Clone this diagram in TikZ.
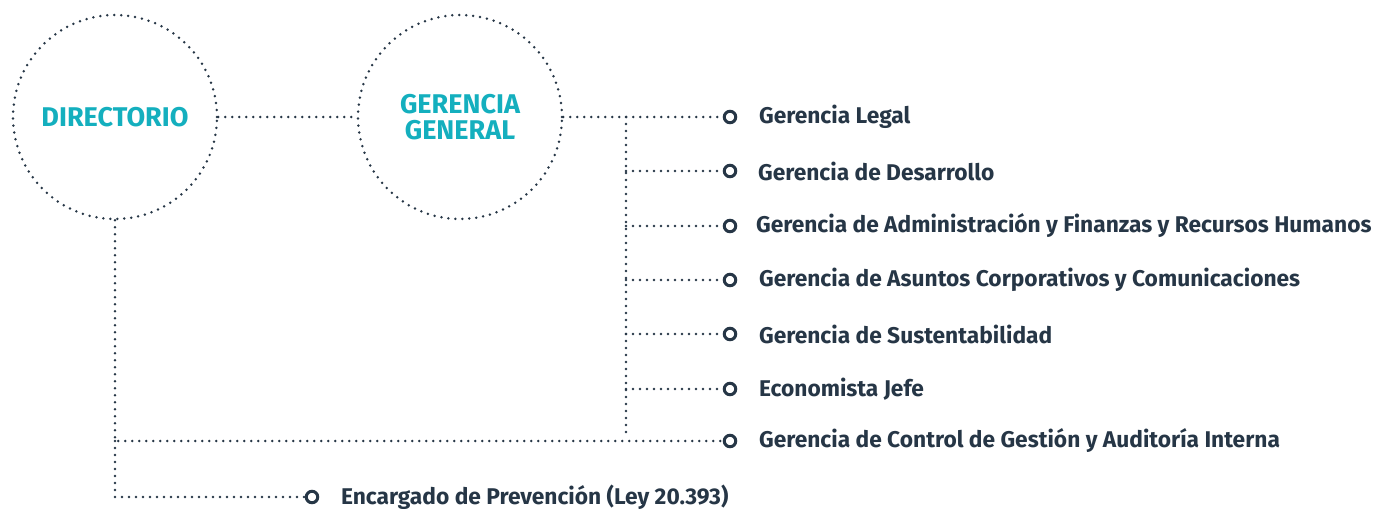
\documentclass[tikz,border=0pt]{standalone}
\usepackage{fontspec}
\setmainfont{Fira Sans}
\usetikzlibrary{positioning}
\definecolor{navy}{HTML}{263646}
\definecolor{teal}{HTML}{14AFBE}

\begin{document}
\begin{tikzpicture}[x=0.02cm, y=-0.02cm,
  link/.style={draw=navy, line width=0.055cm, line cap=round, dash pattern=on 0pt off 0.14cm},
  unit/.style={circle, link, minimum size=4.08cm, inner sep=0pt, align=center,
               text=teal, font=\fontsize{15.4pt}{14.7pt}\selectfont\bfseries},
  tip/.style={circle, draw=navy, line width=0.06cm, inner sep=0pt, minimum size=0.23cm},
  lbl/.style={inner sep=0pt, text=navy, font=\fontsize{12.95pt}{15pt}\selectfont\bfseries}]
\useasboundingbox (0,0) rectangle (1375,508);

\node[unit] (dir) at (115,117) {DIRECTORIO};
\node[unit] (gg) at (460,117) {GERENCIA\\GENERAL};

\node[tip] (m1) at (730,117) {};
\node[tip] (m2) at (730,171) {};
\node[tip] (m3) at (730,226) {};
\node[tip] (m4) at (730,280) {};
\node[tip] (m5) at (730,334) {};
\node[tip] (m6) at (730,389) {};
\node[tip] (m7) at (730,441) {};
\node[tip] (m8) at (312,497) {};

\node[lbl, right=0.43cm of m1] {Gerencia Legal};
\node[lbl, right=0.41cm of m2] {Gerencia de Desarrollo};
\node[lbl, right=0.37cm of m3] {Gerencia de Administración y Finanzas y Recursos Humanos};
\node[lbl, right=0.43cm of m4] {Gerencia de Asuntos Corporativos y Comunicaciones};
\node[lbl, right=0.43cm of m5] {Gerencia de Sustentabilidad};
\node[lbl, right=0.43cm of m6] {Economista Jefe};
\node[lbl, right=0.43cm of m7] {Gerencia de Control de Gestión y Auditoría Interna};
\node[lbl, right=0.43cm of m8] {Encargado de Prevención (Ley 20.393)};

% trunk under the general manager
\coordinate (top) at (626,117);
\coordinate (end) at (626,438);
\coordinate (low) at (dir.south |- m7);

\draw[link] (dir) -- (gg);
\draw[link] (gg) -- (m1);
\draw[link] (top) -- (end);
\draw[link] (top |- m2) -- (m2);
\draw[link] (top |- m3) -- (m3);
\draw[link] (top |- m4) -- (m4);
\draw[link] (top |- m5) -- (m5);
\draw[link] (top |- m6) -- (m6);
\draw[link] (dir.south) -- (low) -- (m7);
\draw[link] (low) |- (m8);
\end{tikzpicture}
\end{document}
